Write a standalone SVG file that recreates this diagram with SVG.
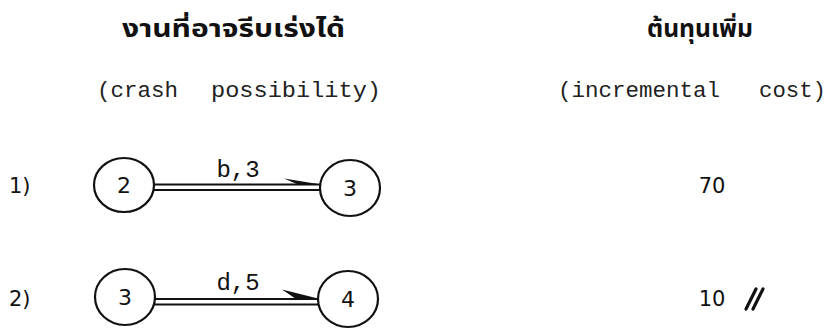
<svg xmlns="http://www.w3.org/2000/svg" width="828" height="330" viewBox="0 0 828 330">
<style>
.th{font-family:"Noto Sans Thai","Loma","Garuda","Noto Sans","DejaVu Sans",sans-serif;font-size:24px;font-weight:bold;fill:#111}
.mono{font-family:"Liberation Mono","Courier New",monospace;font-size:22px;fill:#222}
.lbl{font-family:"Liberation Mono","Courier New",monospace;font-size:24px;fill:#111;text-anchor:middle}
.sans{font-family:"DejaVu Sans","Liberation Sans",sans-serif;font-size:21px;fill:#111}
.num{font-family:"DejaVu Sans","Liberation Sans",sans-serif;font-size:22px;fill:#111;text-anchor:middle}
.node ellipse{fill:#fff;stroke:#111;stroke-width:2.2}
.edge line{stroke:#111;stroke-width:2}
.head{fill:#111}
</style>
<g id="headers">
<text class="th" x="122" y="37" textLength="223" lengthAdjust="spacingAndGlyphs">งานที่อาจรีบเร่งได้</text>
<text class="th" x="647" y="37" textLength="106" lengthAdjust="spacingAndGlyphs">ต้นทุนเพิ่ม</text>
<text class="mono" x="97" y="97" textLength="81" lengthAdjust="spacingAndGlyphs">(crash</text>
<text class="mono" x="211" y="97" textLength="170" lengthAdjust="spacingAndGlyphs">possibility)</text>
<text class="mono" x="558" y="97" textLength="162" lengthAdjust="spacingAndGlyphs">(incremental</text>
<text class="mono" x="759" y="97" textLength="67" lengthAdjust="spacingAndGlyphs">cost)</text>
</g>
<g id="row-labels">
<text class="sans" x="9" y="193">1)</text>
<text class="sans" x="9" y="306">2)</text>
</g>
<g id="connectors">
<g id="edge-b" class="edge">
<line x1="152" y1="184.5" x2="321" y2="184.5"/>
<line x1="152" y1="190" x2="321" y2="190"/>
<polygon class="head" points="284,178.5 321,184.5 298,184.5"/>
<text class="lbl" x="238" y="177">b,3</text>
</g>
<g id="edge-d" class="edge">
<line x1="154" y1="299" x2="320" y2="299"/>
<line x1="154" y1="304.5" x2="320" y2="304.5"/>
<polygon class="head" points="282,289.5 320,299 296,299"/>
<text class="lbl" x="238" y="290">d,5</text>
</g>
</g>
<g id="node-2a" class="node">
<ellipse cx="124" cy="185" rx="30" ry="27"/>
<text class="num" x="124" y="193">2</text>
</g>
<g id="node-3a" class="node">
<ellipse cx="350" cy="188" rx="30" ry="28"/>
<text class="num" x="350" y="196">3</text>
</g>
<g id="node-3b" class="node">
<ellipse cx="125" cy="297" rx="30" ry="28"/>
<text class="num" x="125" y="305">3</text>
</g>
<g id="node-4b" class="node">
<ellipse cx="348" cy="299" rx="30" ry="28"/>
<text class="num" x="348" y="307">4</text>
</g>
<g id="costs">
<text class="sans" x="712" y="193" text-anchor="middle">70</text>
<text class="sans" x="712" y="306" text-anchor="middle">10</text>
<g id="double-slash" stroke="#111" stroke-width="3.2" stroke-linecap="round">
<line x1="746" y1="309" x2="756" y2="289"/>
<line x1="753" y1="309" x2="763" y2="289"/>
</g>
</g>
</svg>
